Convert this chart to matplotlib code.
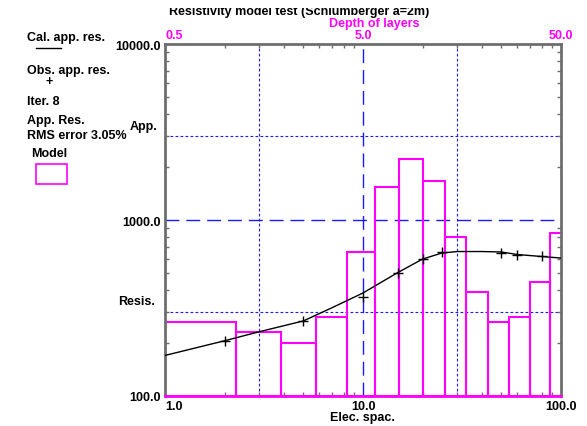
"""Resistivity sounding model plot (Schlumberger), recreated with matplotlib."""

import matplotlib

matplotlib.use("Agg")
import matplotlib.pyplot as plt
from matplotlib.patches import Rectangle
from matplotlib.ticker import FixedLocator, LogLocator, NullFormatter

# Observed apparent resistivity (electrode spacing, ohm-m).
obs_spacing = [2, 5, 10, 15, 20, 25, 50, 60, 80]
obs_res = [206, 268, 363, 503, 604, 655, 647, 632, 623]

# Calculated apparent resistivity curve.
cal_spacing = [1, 2, 3, 5, 7, 10, 15, 20, 25, 30, 40, 50, 60, 80, 100]
cal_res = [170, 206, 232, 267, 318, 385, 503, 600, 649, 662, 662, 658, 637, 620, 608]

# Layer model: depth of layer tops / bottoms (m) and layer resistivity.
layer_top = [0.25, 0.5, 1.14, 1.93, 2.9, 4.15, 5.75, 7.6, 10.05, 12.95,
             16.55, 21.4, 27.3, 34.85, 43.75]
layer_bottom = [0.5, 1.14, 1.93, 2.9, 4.15, 5.75, 7.6, 10.05, 12.95,
                16.55, 21.4, 27.3, 34.85, 43.75, 65.0]
layer_res = [139, 262, 231, 200, 281, 655, 1540, 2220, 1666, 797,
             388, 262, 281, 443, 847]

y_ticks = [100, 1000, 10000]
x_ticks = [1, 10, 100]
depth_ticks = [0.5, 5, 50]

MAGENTA = "#ff00ff"
BLUE = "#1a1aff"
GRAY = "#6e6e6e"
FONT = dict(family="Liberation Sans", weight="bold", size=9)

W, H = 587, 427
fig = plt.figure(figsize=(W / 100, H / 100), dpi=100)
ax = fig.add_axes([165 / W, 1 - 397 / H, 396 / W, 352 / H])
ax.set_xscale("log")
ax.set_yscale("log")
ax.set_xlim(1, 100)
ax.set_ylim(100, 10000)


def px(x, y):
    """Figure fraction from pixel position (origin top-left)."""
    return x / W, 1 - y / H


# Grid lines
for v in (3, 30):
    ax.axvline(v, color=BLUE, lw=0.8, ls=(0, (2.5, 2)), zorder=1)
for v in (300, 3000):
    ax.axhline(v, color=BLUE, lw=0.8, ls=(0, (2.5, 2)), zorder=1)
ax.axvline(10, color=BLUE, lw=1, ls=(0, (10, 5)), zorder=1)
ax.axhline(1000, color=BLUE, lw=1, ls=(0, (10, 5)), zorder=1)

# Model layers (depth -> electrode spacing, a = 2 * depth)
for top, bot, res in zip(layer_top, layer_bottom, layer_res):
    ax.bar(2 * top, res - 100, width=2 * (bot - top), bottom=100,
           align="edge", fill=False, edgecolor=MAGENTA, lw=1.5, zorder=2)

# Curves
ax.plot(cal_spacing, cal_res, color="black", lw=1, zorder=3)
ax.plot(obs_spacing, obs_res, ls="none", marker="+", ms=7, mew=1,
        color="black", zorder=4)

# Axes styling
for side in ("left", "right", "top"):
    ax.spines[side].set_color(GRAY)
    ax.spines[side].set_linewidth(2)
ax.spines["bottom"].set_color(MAGENTA)
ax.spines["bottom"].set_linewidth(2)

ax.yaxis.set_major_locator(FixedLocator(y_ticks))
ax.set_yticklabels([f"{v:.1f}" for v in y_ticks], fontdict=FONT)
ax.yaxis.set_minor_locator(LogLocator(base=10, subs=range(2, 10)))
ax.yaxis.set_minor_formatter(NullFormatter())
ax.xaxis.set_major_locator(FixedLocator(x_ticks))
ax.set_xticklabels([f"{v:.1f}" for v in x_ticks], fontdict=FONT)
ax.xaxis.set_minor_locator(LogLocator(base=10, subs=range(2, 10)))
ax.xaxis.set_minor_formatter(NullFormatter())
ax.get_xticklabels()[0].set_horizontalalignment("left")
ax.tick_params(which="major", length=0, pad=3)
ax.tick_params(which="minor", direction="in", length=3, width=1,
               color=GRAY, top=True, right=True)

# Depth axis on top
sec = ax.secondary_xaxis("top", functions=(lambda s: s / 2, lambda d: d * 2))
sec.xaxis.set_major_locator(FixedLocator(depth_ticks))
sec.set_xticklabels([f"{v:.1f}" for v in depth_ticks], fontdict=FONT,
                    color=MAGENTA)
sec.xaxis.set_minor_locator(FixedLocator([]))
sec.tick_params(which="major", length=0, pad=2)
sec.spines["top"].set_visible(False)
sec.get_xticklabels()[0].set_horizontalalignment("left")
fig.text(*px(374, 24), "Depth of layers", color=MAGENTA, ha="center",
         va="center", **FONT)

# Title, with its upper part cut off as in the original screen grab
fig.text(*px(299, 15), "Resistivity model test (Schlumberger a=2m)",
         ha="center", va="baseline", **FONT)
fig.add_artist(Rectangle((0, 1 - 9 / H), 1, 9 / H, facecolor="white",
                         edgecolor="none", transform=fig.transFigure,
                         zorder=10))

fig.text(*px(362, 418), "Elec. spac.", ha="center", va="center", **FONT)
fig.text(*px(130, 127), "App.", ha="left", va="center", **FONT)
fig.text(*px(118, 302), "Resis.", ha="left", va="center", **FONT)

# Left-hand legend block
fig.text(*px(27, 38), "Cal. app. res.", ha="left", va="center", **FONT)
fig.add_artist(plt.Line2D([36 / W, 61 / W], [1 - 49 / H] * 2,
                          color="black", lw=1))
fig.text(*px(27, 71), "Obs. app. res.", ha="left", va="center", **FONT)
fig.text(*px(49, 82), "+", ha="center", va="center", **FONT)
fig.text(*px(27, 102), "Iter. 8", ha="left", va="center", **FONT)
fig.text(*px(27, 121), "App. Res.", ha="left", va="center", **FONT)
fig.text(*px(27, 136), "RMS error 3.05%", ha="left", va="center", **FONT)
fig.text(*px(31, 154), "Model", ha="left", va="center", **FONT)
fig.add_artist(Rectangle(px(36, 185), 31 / W, 20 / H, fill=False,
                         edgecolor=MAGENTA, lw=1.2,
                         transform=fig.transFigure))

fig.savefig("out.png", dpi=100)
